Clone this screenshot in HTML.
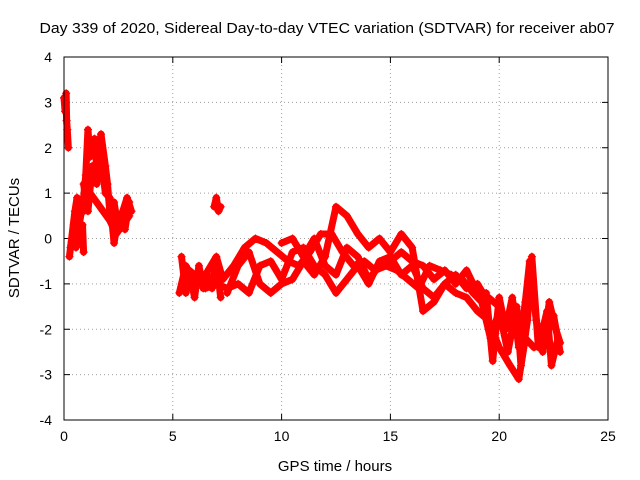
<!DOCTYPE html>
<html><head><meta charset="utf-8"><style>
body{margin:0;background:#fff}
svg{display:block;font-family:"Liberation Sans",sans-serif}
</style></head><body>
<svg id="chart" width="640" height="480">
<text x="327" y="33" font-size="15" text-anchor="middle" textLength="575" lengthAdjust="spacingAndGlyphs">Day 339 of 2020, Sidereal Day-to-day VTEC variation (SDTVAR) for receiver ab07</text>
<text x="335" y="471" font-size="15" text-anchor="middle">GPS time / hours</text>
<text transform="translate(19,238) rotate(-90)" font-size="15" text-anchor="middle">SDTVAR / TECUs</text>
<g id="grid"></g><g id="marks"></g>
<rect x="64" y="57" width="544" height="363" fill="none" stroke="#000"/>
</svg>
<script>
const xTicks=[0,5,10,15,20,25];
const yTicks=[-4,-3,-2,-1,0,1,2,3,4];
const trackA=[[0.0,3.1],[0.05,2.8],[0.1,3.2],[0.12,2.6],[0.15,2.4],[0.2,2.0]];
const trackB=[[0.25,-0.4],[0.35,0],[0.5,0.6],[0.6,0.9],[0.7,0.3],[0.9,0.9],[1.0,1.4],[1.1,2.4],[1.2,1.8],[1.4,2.2],[1.5,1.6],[1.7,2.3],[1.9,1.6],[2.0,1.2],[2.1,0.6],[2.3,0.8],[2.5,0.2],[2.7,0.6],[2.9,0.9],[3.1,0.6]];
const trackC=[[0.9,0.6],[1.2,1.0],[1.5,0.8],[1.8,0.6],[2.1,0.4],[2.4,0.1],[2.7,0.3],[3.0,0.5]];
const trackE=[[0.9,1.2],[1.1,0.6],[1.3,1.6],[1.5,1.2],[1.7,1.8],[1.9,1.0],[2.1,0.9],[2.3,-0.1],[2.5,0.5],[2.8,0.2],[3.0,0.8]];
const trackF=[[0.3,-0.2],[0.45,0.3],[0.55,-0.2],[0.7,0.1],[0.85,0.3],[0.9,-0.3]];
const trackD=[[6.9,0.7],[7.0,0.9],[7.1,0.6],[7.2,0.7]];
const track1=[[5.3,-1.2],[5.6,-0.6],[6.0,-1.0],[6.5,-0.8],[7.0,-0.4],[7.3,-0.9],[7.8,-0.6],[8.3,-0.2],[8.8,0.0],[9.3,-0.1],[9.8,-0.3],[10.3,-0.5],[10.8,-0.6],[11.3,-0.3],[11.8,0.1],[12.3,0.1],[12.8,-0.3],[13.3,-0.6],[13.8,-0.5],[14.3,-0.7],[14.8,-0.6],[15.3,-0.7],[15.8,-0.9],[16.3,-1.1],[16.8,-0.6],[17.3,-0.7],[17.8,-0.8],[18.3,-0.9],[18.8,-1.2],[19.2,-1.4],[19.6,-2.2],[20.0,-1.6],[20.4,-2.5],[20.8,-1.5],[21.0,-2.8],[21.3,-1.8],[21.5,-0.4],[21.8,-2.4],[22.2,-1.6],[22.4,-2.8],[22.7,-2.2]];
const track2=[[5.5,-0.6],[6.0,-0.8],[6.5,-1.1],[7.0,-1.0],[7.5,-1.1],[8.0,-1.0],[8.5,-1.2],[9.0,-0.6],[9.5,-0.5],[10.0,-0.9],[10.5,-0.3],[11.0,-0.2],[11.5,-0.6],[12.0,-0.8],[12.5,-1.2],[13.0,-0.9],[13.5,-0.6],[14.0,-1.0],[14.5,-0.5],[15.0,-0.4],[15.5,-0.8],[16.0,-0.6],[16.5,-1.1],[17.0,-1.3],[17.5,-1.0],[18.0,-1.2],[18.5,-1.3],[19.0,-1.6],[19.5,-1.8],[20.0,-2.4],[20.5,-2.8],[20.9,-3.1],[21.2,-2.2],[21.6,-2.4],[22.0,-2.3],[22.5,-1.7],[22.8,-2.5]];
const track3=[[7.5,-1.2],[8.0,-0.6],[8.5,-0.3],[9.0,-1.0],[9.5,-1.2],[10.0,-1.0],[10.5,-0.9],[11.0,-0.5],[11.5,-0.8],[12.0,-0.4],[12.5,0.7],[13.0,0.5],[13.5,0.1],[14.0,-0.2],[14.5,0.0],[15.0,-0.3],[15.5,0.1],[16.0,-0.2],[16.5,-1.6],[17.0,-1.4],[17.5,-1.0],[18.0,-0.8],[18.5,-1.1],[19.0,-1.0],[19.5,-1.4]];
const track4=[[10.0,-0.1],[10.5,0.0],[11.0,-0.4],[11.5,0.0],[12.0,-0.6],[12.5,-0.8],[13.0,-0.2],[13.5,-0.4],[14.0,-0.9],[14.5,-0.6],[15.0,-0.5],[15.5,-0.3],[16.0,-0.5],[16.5,-0.6],[17.0,-0.9],[17.5,-0.7],[18.0,-1.0],[18.5,-0.7],[19.0,-1.2],[19.5,-1.3],[20.0,-1.5]];
const track5=[[5.4,-0.4],[5.6,-1.2],[5.8,-0.8],[6.0,-1.3],[6.2,-0.6],[6.4,-1.1],[6.6,-0.8],[6.8,-1.1],[7.0,-0.5],[7.2,-1.3]];
const track6=[[19.4,-1.2],[19.7,-2.7],[20.0,-1.3],[20.3,-2.0],[20.6,-1.3],[20.9,-2.4],[21.2,-1.4],[21.4,-0.5],[21.7,-1.8],[22.0,-2.5],[22.3,-1.4],[22.6,-2.0],[22.8,-2.3]];
const tracks=[trackA,trackB,trackC,trackE,trackF,trackD,track1,track2,track3,track4,track5,track6];
const NS="http://www.w3.org/2000/svg";
function sx(v){return 64+v*(544/25);}
function sy(v){return 238.5-v*(363/8);}
const grid=document.getElementById('grid'), marks=document.getElementById('marks');
function mk(t,a,p){const e=document.createElementNS(NS,t);for(const k in a)e.setAttribute(k,a[k]);p.appendChild(e);return e;}
xTicks.forEach(t=>{
  const x=sx(t);
  if(t>0&&t<25){const g=mk('line',{x1:x,y1:57,x2:x,y2:420,stroke:'#a0a0a0','stroke-dasharray':'1,3'},grid);
  
  }
  mk('line',{x1:x,y1:420,x2:x,y2:414,stroke:'#000'},grid);
  mk('line',{x1:x,y1:57,x2:x,y2:63,stroke:'#000'},grid);
  const l=mk('text',{x:x,y:441,'font-size':14,'text-anchor':'middle'},grid);l.textContent=t;
  
  
});
yTicks.forEach(t=>{
  const y=sy(t);
  if(t>-4&&t<4){const g=mk('line',{x1:64,y1:y,x2:608,y2:y,stroke:'#a0a0a0','stroke-dasharray':'1,3'},grid);
  
  }
  mk('line',{x1:64,y1:y,x2:70,y2:y,stroke:'#000'},grid);
  mk('line',{x1:608,y1:y,x2:602,y2:y,stroke:'#000'},grid);
  const l=mk('text',{x:52,y:y+5,'font-size':14,'text-anchor':'end'},grid);l.textContent=t;
  
  
});
tracks.forEach(tr=>{
  const pl=mk('polyline',{points:tr.map(p=>sx(p[0])+','+sy(p[1])).join(' '),fill:'none',stroke:'#f00','stroke-width':7,'stroke-linejoin':'round','stroke-linecap':'round'},marks);
  
  
  tr.forEach(p=>{
    const x=sx(p[0]),y=sy(p[1]);
    const m=mk('path',{d:`M${x-4},${y}H${x+4}M${x},${y-4}V${y+4}`,stroke:'#f00','stroke-width':1.2},marks);
    
    
  });
});
</script>
</body></html>
